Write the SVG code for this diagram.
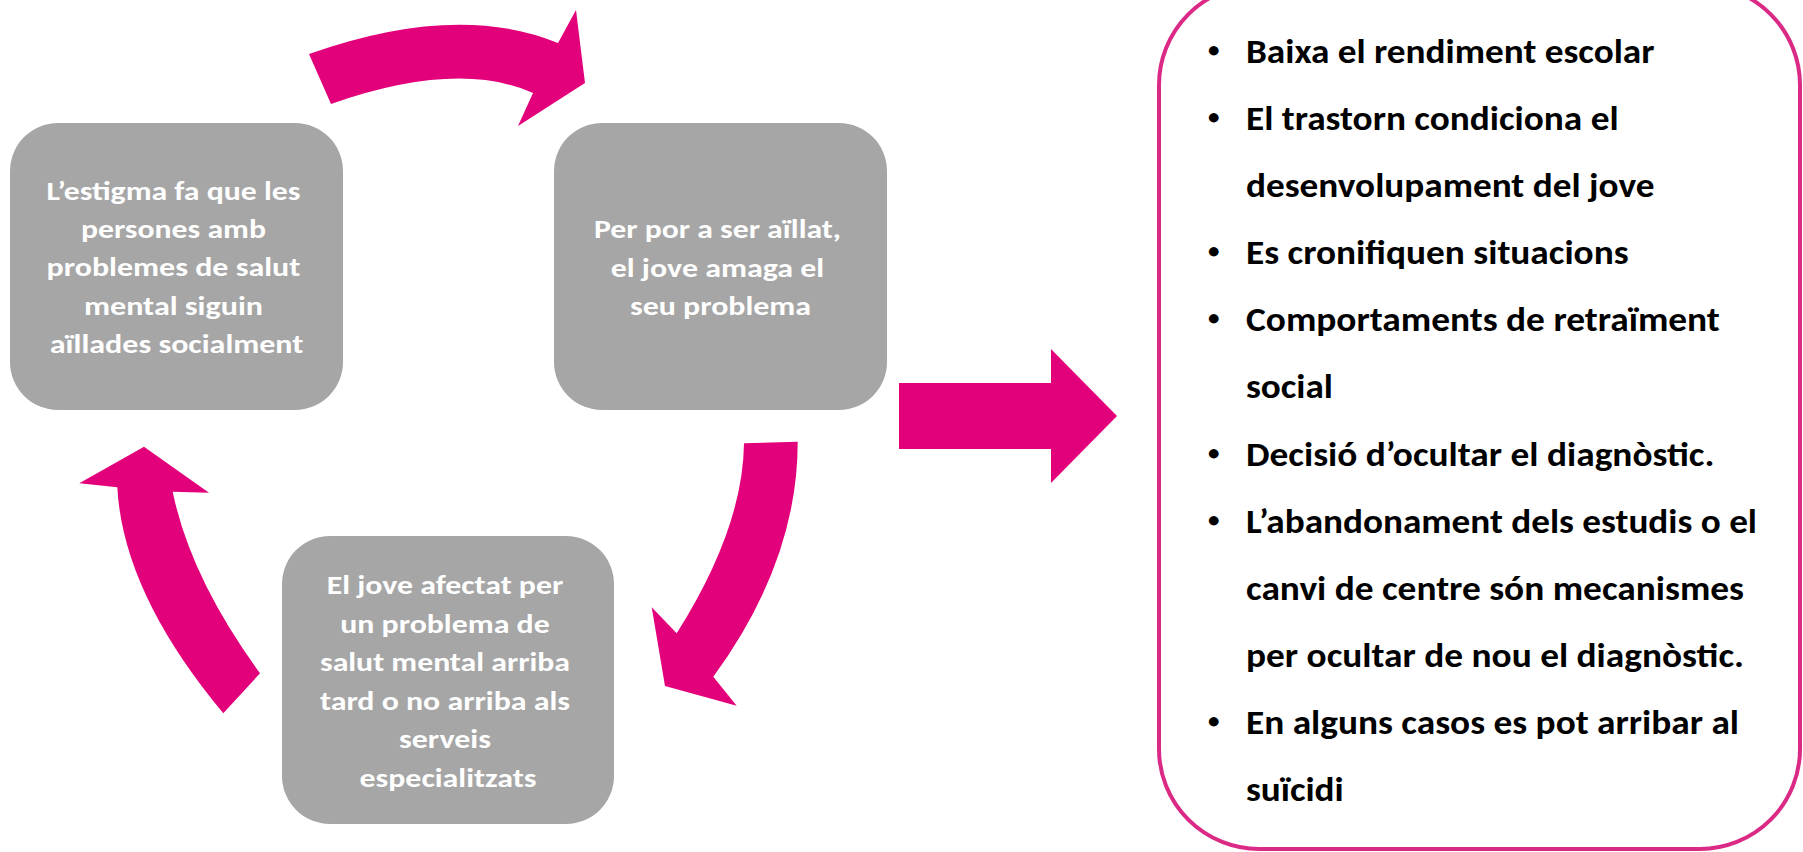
<svg xmlns="http://www.w3.org/2000/svg" width="1803" height="852" viewBox="0 0 1803 852">
<style>
.box{fill:#A6A6A6}
.arr{fill:#E3007B}
.bt{font-family:Carlito,Lato,"Liberation Sans",sans-serif;font-weight:bold;font-size:26.7px;fill:#FFFFFF;text-anchor:middle}
.lt{font-family:Carlito,Lato,"Liberation Sans",sans-serif;font-weight:bold;font-size:35px;fill:#000000}
.bu{font-family:Carlito,Lato,"Liberation Sans",sans-serif;font-weight:bold;font-size:23px;fill:#000000}
</style>
<rect width="1803" height="852" fill="#FFFFFF"/>
<g id="connectors">
<path class="arr" d="M309,54 Q456.5,1.5 558,43 L576,10 L585,83 L518,126 L533,93 Q458,59.5 331,104 Z"/>
<path class="arr" d="M797.7,441.7 Q797.9,560.8 713.3,676.7 L736.7,705.7 L665,686 L651.7,607.3 L676.7,633.3 Q743,528.3 744,443.3 Z"/>
<path class="arr" d="M223.3,713.3 Q123.1,593.1 117.3,487.3 L79.3,483.3 L144,446.7 L209,492.7 L172.7,491.7 Q190.25,577.5 260,673.3 Z"/>
<polygon class="arr" points="899,383 1051,383 1051,349 1117,416 1051,483 1051,449 899,449"/>
</g>
<g id="node-stigma">
<rect class="box" x="10" y="123" width="333" height="287" rx="48" ry="48"/>
<text class="bt">
<tspan x="176.5" y="200" textLength="254" lengthAdjust="spacingAndGlyphs">L’estigma fa que les</tspan>
<tspan x="176.5" y="238" textLength="185" lengthAdjust="spacingAndGlyphs">persones amb</tspan>
<tspan x="176.5" y="276" textLength="253.7" lengthAdjust="spacingAndGlyphs">problemes de salut</tspan>
<tspan x="176.5" y="315" textLength="179" lengthAdjust="spacingAndGlyphs">mental siguin</tspan>
<tspan x="176.5" y="353" textLength="253.7" lengthAdjust="spacingAndGlyphs">aïllades socialment</tspan>
</text>
</g>
<g id="node-fear">
<rect class="box" x="554" y="123" width="333" height="287" rx="48" ry="48"/>
<text class="bt">
<tspan x="720.5" y="238" textLength="247" lengthAdjust="spacingAndGlyphs">Per por a ser aïllat,</tspan>
<tspan x="720.5" y="277" textLength="213.5" lengthAdjust="spacingAndGlyphs">el jove amaga el</tspan>
<tspan x="720.5" y="315" textLength="181" lengthAdjust="spacingAndGlyphs">seu problema</tspan>
</text>
</g>
<g id="node-late">
<rect class="box" x="282" y="536" width="332" height="288" rx="48" ry="48"/>
<text class="bt">
<tspan x="448" y="594" textLength="236.5" lengthAdjust="spacingAndGlyphs">El jove afectat per</tspan>
<tspan x="448" y="633" textLength="209.5" lengthAdjust="spacingAndGlyphs">un problema de</tspan>
<tspan x="448" y="671" textLength="250" lengthAdjust="spacingAndGlyphs">salut mental arriba</tspan>
<tspan x="448" y="710" textLength="250" lengthAdjust="spacingAndGlyphs">tard o no arriba als</tspan>
<tspan x="448" y="748" textLength="92" lengthAdjust="spacingAndGlyphs">serveis</tspan>
<tspan x="448" y="787" textLength="177" lengthAdjust="spacingAndGlyphs">especialitzats</tspan>
</text>
</g>
<g id="node-consequences">
<rect x="1159" y="-15" width="641" height="864" rx="100" ry="100" fill="#FFFFFF" stroke="#DB2A86" stroke-width="4"/>
<text class="bu">
<tspan x="1208" y="57">•</tspan>
<tspan x="1208" y="124">•</tspan>
<tspan x="1208" y="258">•</tspan>
<tspan x="1208" y="325">•</tspan>
<tspan x="1208" y="460">•</tspan>
<tspan x="1208" y="527">•</tspan>
<tspan x="1208" y="728">•</tspan>
</text>
<text class="lt">
<tspan x="1246" y="63" textLength="408.5" lengthAdjust="spacingAndGlyphs">Baixa el rendiment escolar</tspan>
<tspan x="1246" y="130" textLength="372.6" lengthAdjust="spacingAndGlyphs">El trastorn condiciona el</tspan>
<tspan x="1246" y="197" textLength="408.5" lengthAdjust="spacingAndGlyphs">desenvolupament del jove</tspan>
<tspan x="1246" y="264" textLength="382.6" lengthAdjust="spacingAndGlyphs">Es cronifiquen situacions</tspan>
<tspan x="1246" y="331" textLength="473.8" lengthAdjust="spacingAndGlyphs">Comportaments de retraïment</tspan>
<tspan x="1246" y="398" textLength="87" lengthAdjust="spacingAndGlyphs">social</tspan>
<tspan x="1246" y="466" textLength="468.5" lengthAdjust="spacingAndGlyphs">Decisió d’ocultar el diagnòstic.</tspan>
<tspan x="1246" y="533" textLength="511" lengthAdjust="spacingAndGlyphs">L’abandonament dels estudis o el</tspan>
<tspan x="1246" y="600" textLength="498" lengthAdjust="spacingAndGlyphs">canvi de centre són mecanismes</tspan>
<tspan x="1246" y="667" textLength="498" lengthAdjust="spacingAndGlyphs">per ocultar de nou el diagnòstic.</tspan>
<tspan x="1246" y="734" textLength="493" lengthAdjust="spacingAndGlyphs">En alguns casos es pot arribar al</tspan>
<tspan x="1246" y="801" textLength="97.7" lengthAdjust="spacingAndGlyphs">suïcidi</tspan>
</text>
</g>
</svg>
